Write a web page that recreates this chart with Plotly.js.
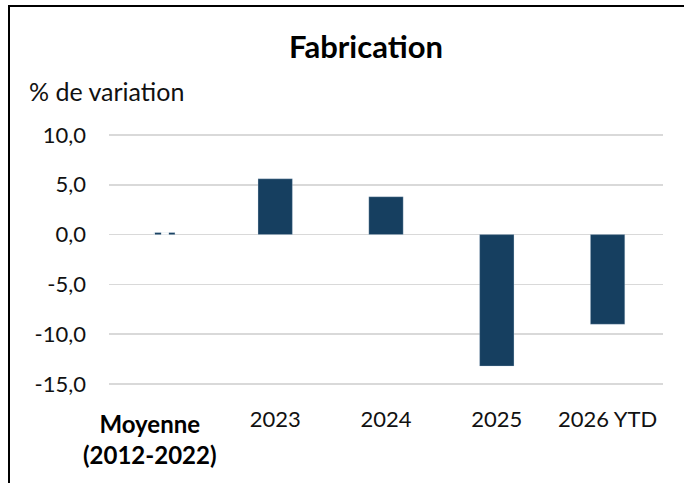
<!DOCTYPE html>
<html>
<head>
<meta charset="utf-8">
<script src="https://cdn.plot.ly/plotly-3.0.1.min.js"></script>
<style>
html,body{margin:0;padding:0;background:#fff;}
#wrap{position:relative;width:684px;height:483px;overflow:hidden;}
#chart{position:absolute;left:0;top:0;width:684px;height:483px;}
#frame{position:absolute;left:8px;top:5px;width:700px;height:500px;border-left:2px solid #000;border-top:2px solid #000;pointer-events:none;}
</style>
</head>
<body>
<div id="wrap"><div id="chart"></div><div id="frame"></div></div>
<script>
const categories = ["Moyenne (2012-2022)", "2023", "2024", "2025", "2026 YTD"];
const tickLabels = ["", "2023", "2024", "2025", "2026 YTD"];
const firstLabel = "<b>Moyenne</b><br><b>(2012-2022)</b>";
const values = [0.2, 5.6, 3.8, -13.2, -9.0];
const yTickVals = [-15, -10, -5, 0, 5, 10];
const yTickText = ["-15,0", "-10,0", "-5,0", "0,0", "5,0", "10,0"];
const chartTitle = "Fabrication";
const yLabel = "% de variation";

const navy = "#163f60";
const font = "Lato, 'Open Sans', sans-serif";

const trace = {
  type: "bar",
  x: categories,
  y: values,
  width: [0.19, 0.31, 0.31, 0.31, 0.31],
  marker: {
    color: navy,
    line: {color: "rgba(200,215,230,0.6)", width: 0.5},
    pattern: {shape: ["|", "", "", "", ""], fgcolor: navy, bgcolor: "#ffffff", size: 14, solidity: 0.45}
  },
  hoverinfo: "skip"
};

const layout = {
  width: 684,
  height: 483,
  margin: {l: 109, r: 21, t: 132, b: 96},
  paper_bgcolor: "#ffffff",
  plot_bgcolor: "#ffffff",
  showlegend: false,
  font: {family: font, color: "#111111", size: 22},
  title: {
    text: "<b>" + chartTitle + "</b>",
    font: {family: font, size: 31, color: "#000000"},
    x: 366 / 684, xanchor: "center", xref: "container",
    y: 1 - 47 / 483, yanchor: "middle", yref: "container"
  },
  xaxis: {
    type: "category",
    categoryorder: "array",
    categoryarray: categories,
    range: [-0.5, categories.length - 0.5],
    autorange: false,
    tickvals: categories,
    ticktext: tickLabels,
    tickfont: {family: font, size: 22, color: "#111111"},
    showgrid: false,
    showline: false,
    zeroline: false,
    ticks: "",
    ticklabelstandoff: 17,
    fixedrange: true
  },
  yaxis: {
    range: [-15.3, 10.3],
    autorange: false,
    tickvals: yTickVals,
    ticktext: yTickText,
    tickfont: {family: font, size: 22, color: "#111111"},
    showgrid: true,
    gridcolor: "#d9d9d9",
    gridwidth: 1.5,
    zeroline: true,
    zerolinecolor: "#d9d9d9",
    zerolinewidth: 1.5,
    showline: false,
    ticks: "",
    ticklabelstandoff: 22,
    fixedrange: true
  },
  annotations: [{
    text: yLabel,
    xref: "paper", yref: "paper",
    x: (27 - 109) / 554, y: 1,
    yshift: 132 - 91,
    xanchor: "left", yanchor: "middle",
    showarrow: false,
    font: {family: font, size: 25, color: "#111111"}
  }, {
    text: firstLabel,
    xref: "x", yref: "paper",
    x: categories[0], y: 0,
    xshift: -14, yshift: -20,
    xanchor: "center", yanchor: "top",
    showarrow: false,
    font: {family: font, size: 24, color: "#000000"}
  }]
};

Plotly.newPlot("chart", [trace], layout, {displayModeBar: false, staticPlot: true});
</script>
</body>
</html>
